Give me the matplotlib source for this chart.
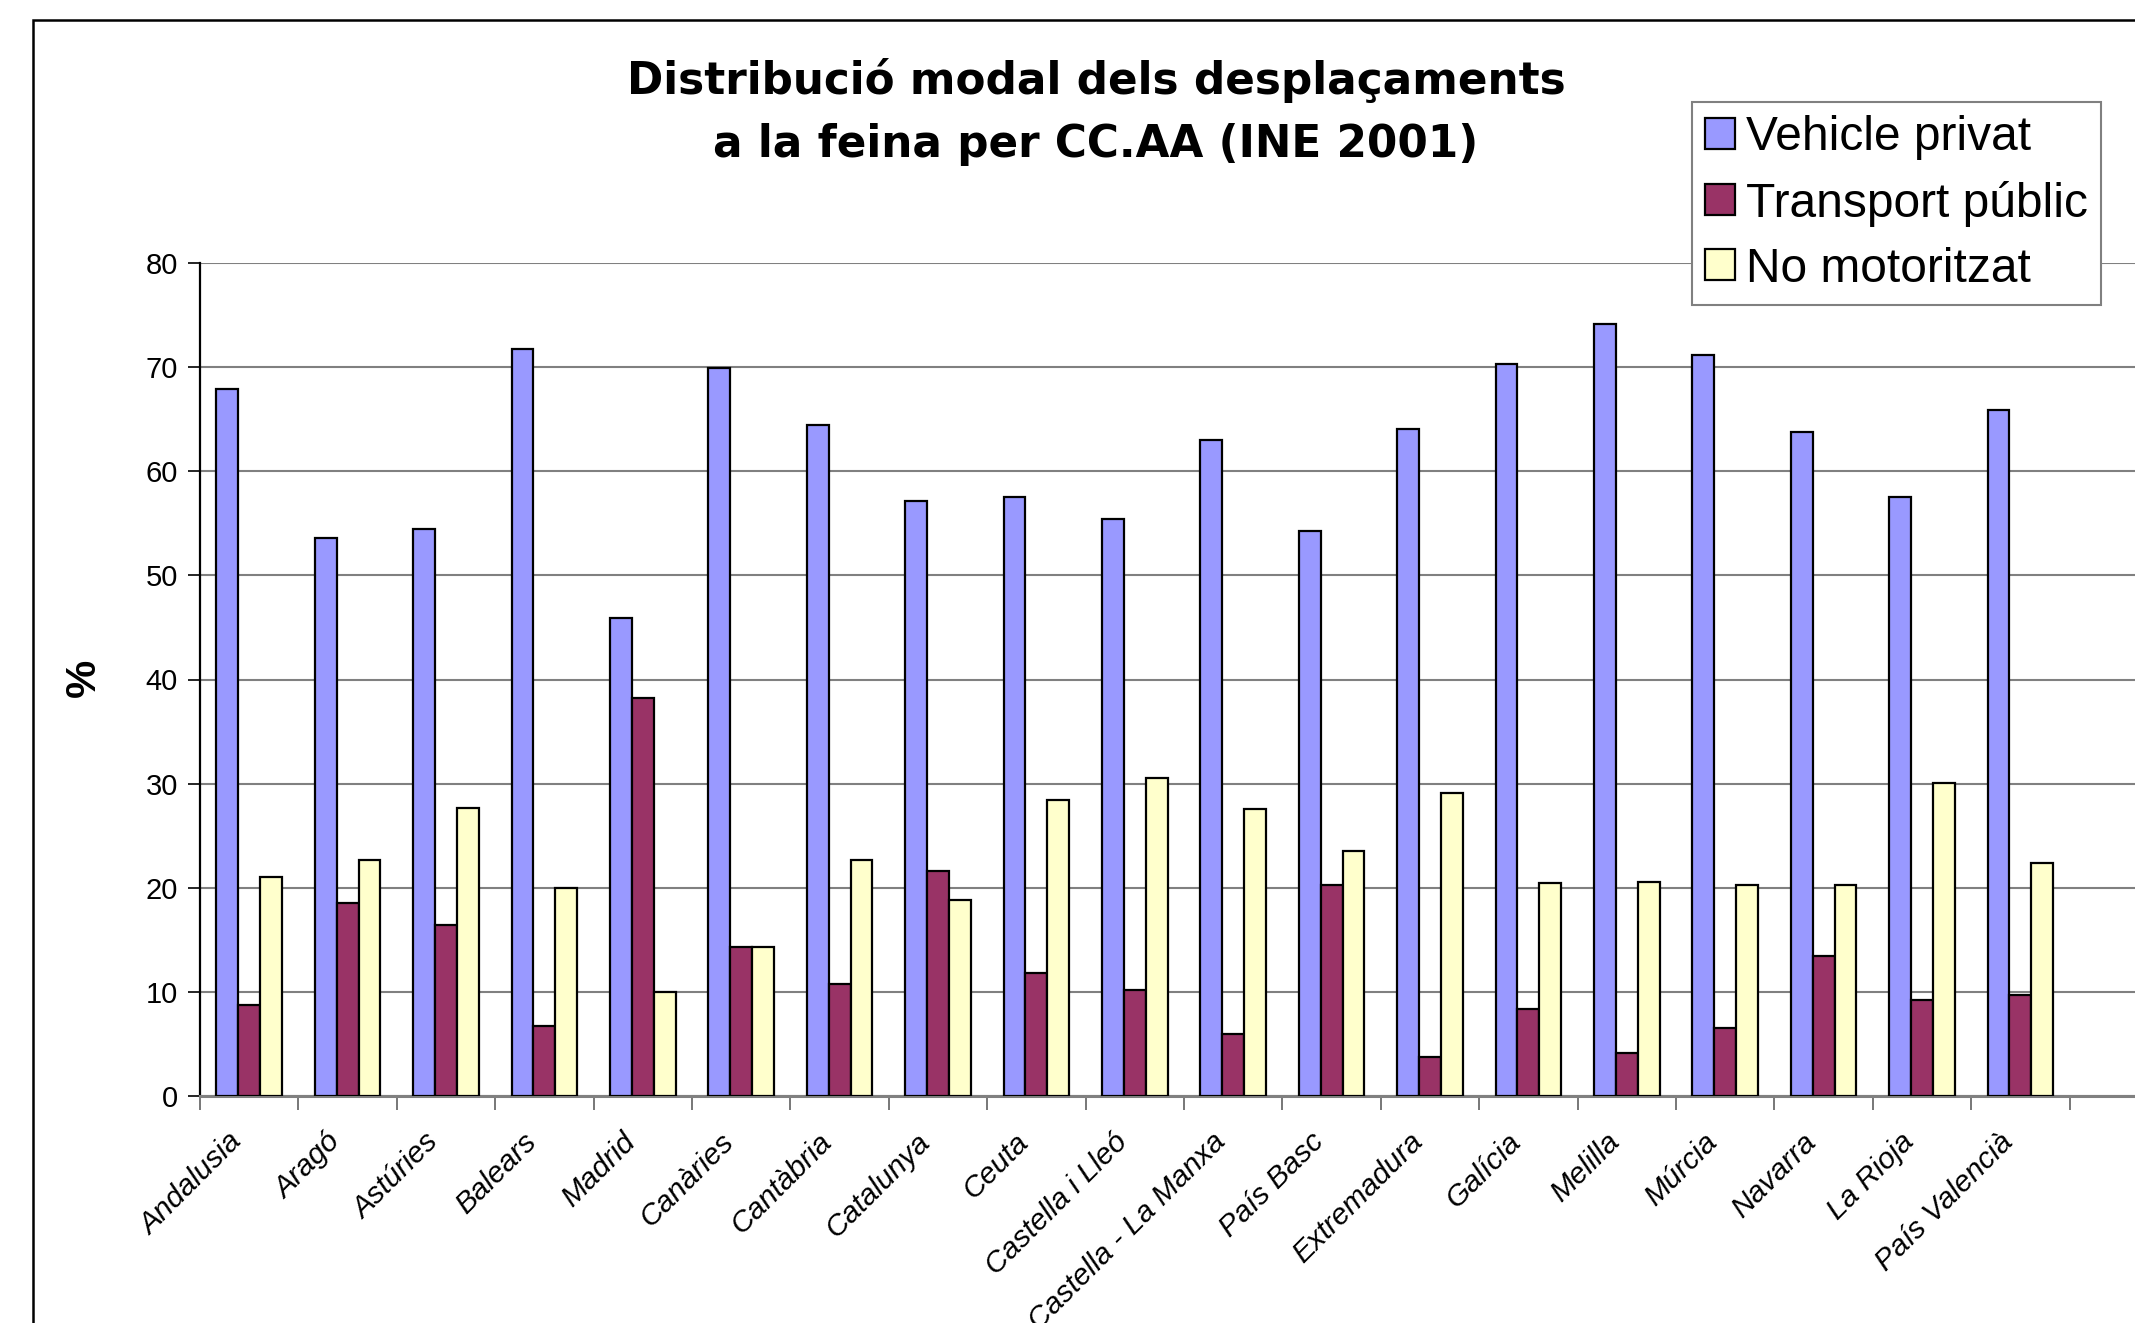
import numpy as np
import matplotlib
matplotlib.use("Agg")
from matplotlib import pyplot as plt
from matplotlib.patches import Rectangle
from matplotlib.transforms import ScaledTranslation

regions = ["Andalusia", "Aragó", "Astúries", "Balears", "Madrid", "Canàries",
           "Cantàbria", "Catalunya", "Ceuta", "Castella i Lleó",
           "Castella - La Manxa", "País Basc", "Extremadura", "Galícia",
           "Melilla", "Múrcia", "Navarra", "La Rioja", "País Valencià"]
vehicle_privat = [67.9, 53.6, 54.5, 71.7, 45.9, 69.9, 64.4, 57.1, 57.5, 55.4,
                  63.0, 54.3, 64.1, 70.3, 74.1, 71.2, 63.8, 57.5, 65.9]
transport_public = [8.7, 18.5, 16.4, 6.7, 38.2, 14.3, 10.8, 21.6, 11.8, 10.2,
                    6.0, 20.3, 3.7, 8.4, 4.1, 6.5, 13.4, 9.2, 9.7]
no_motoritzat = [21.0, 22.7, 27.7, 20.0, 10.0, 14.3, 22.7, 18.8, 28.4, 30.5,
                 27.6, 23.5, 29.1, 20.5, 20.6, 20.3, 20.3, 30.1, 22.4]
series_names = ["Vehicle privat", "Transport públic", "No motoritzat"]
colors = ["#9999FF", "#993366", "#FFFFCC"]

W, H = 2135, 1323
fig = plt.figure(figsize=(W / 100, H / 100), dpi=100)

# plot area runs off the right edge of the picture
ax = fig.add_axes([200 / W, 1 - 1096 / H, 1 - 200 / W, (1096 - 263) / H])

x = np.arange(len(regions))
bw = 0.222
for i, (vals, name, col) in enumerate(zip([vehicle_privat, transport_public, no_motoritzat],
                                          series_names, colors)):
    ax.bar(x + (i - 1) * bw, vals, bw, color=col, edgecolor="black",
           linewidth=1.6, label=name, zorder=3)

ax.set_ylim(0, 80)
ax.set_xlim(-0.5, -0.5 + (W - 200) / 98.4)
ax.set_yticks(range(0, 81, 10))
ax.yaxis.grid(True, color="#808080", linewidth=1.5, zorder=0)
ax.set_axisbelow(True)

for lab in ax.get_yticklabels():
    lab.set_family("Liberation Sans")
ax.tick_params(axis="y", labelsize=21, length=9, width=1.2, pad=7, direction="out")

ax.set_xticks(x)
ax.set_xticklabels(regions, rotation=45, ha="right", va="center",
                   rotation_mode="anchor", fontsize=21.5, style="italic",
                   family="Liberation Sans")
ax.tick_params(axis="x", which="major", length=0, pad=30)
shift = ScaledTranslation(-0.12, 0, fig.dpi_scale_trans)
for lab in ax.get_xticklabels():
    lab.set_transform(lab.get_transform() + shift)
ax.set_xticks(np.arange(-0.5, len(regions), 1), minor=True)
ax.tick_params(axis="x", which="minor", length=10, width=1.2, color="#606060",
               direction="out")

ax.spines["top"].set_visible(False)
ax.spines["right"].set_visible(False)
ax.spines["left"].set_linewidth(1.6)
ax.spines["bottom"].set_color("#808080")
ax.spines["bottom"].set_linewidth(2.2)

fig.text(84 / W, 1 - 678 / H, "%", rotation=90, fontsize=31, fontweight="bold",
         family="Liberation Sans", ha="center", va="center")

fig.text(1096 / W, 1 - 112 / H,
         "Distribució modal dels desplaçaments\na la feina per CC.AA (INE 2001)",
         ha="center", va="center", fontsize=31.5, fontweight="bold",
         family="DejaVu Sans", linespacing=1.6)

leg = fig.legend(loc="upper left", bbox_to_anchor=(1692 / W, 1 - 102 / H),
                 prop={"family": "Liberation Sans", "size": 34.5},
                 fancybox=False, frameon=True, edgecolor="#808080",
                 framealpha=1, borderpad=0.28, labelspacing=0.42,
                 handlelength=0.62, handleheight=0.62, handletextpad=0.22,
                 borderaxespad=0)
leg.get_frame().set_linewidth(1.5)
leg.set_zorder(10)

# chart area frame (cut by the picture edge)
fig.add_artist(Rectangle((33 / W, -0.1), 1.1, 1.1 - 20 / H,
                         transform=fig.transFigure, fill=False,
                         edgecolor="black", linewidth=1.8))

fig.savefig("out.png", dpi=100)
